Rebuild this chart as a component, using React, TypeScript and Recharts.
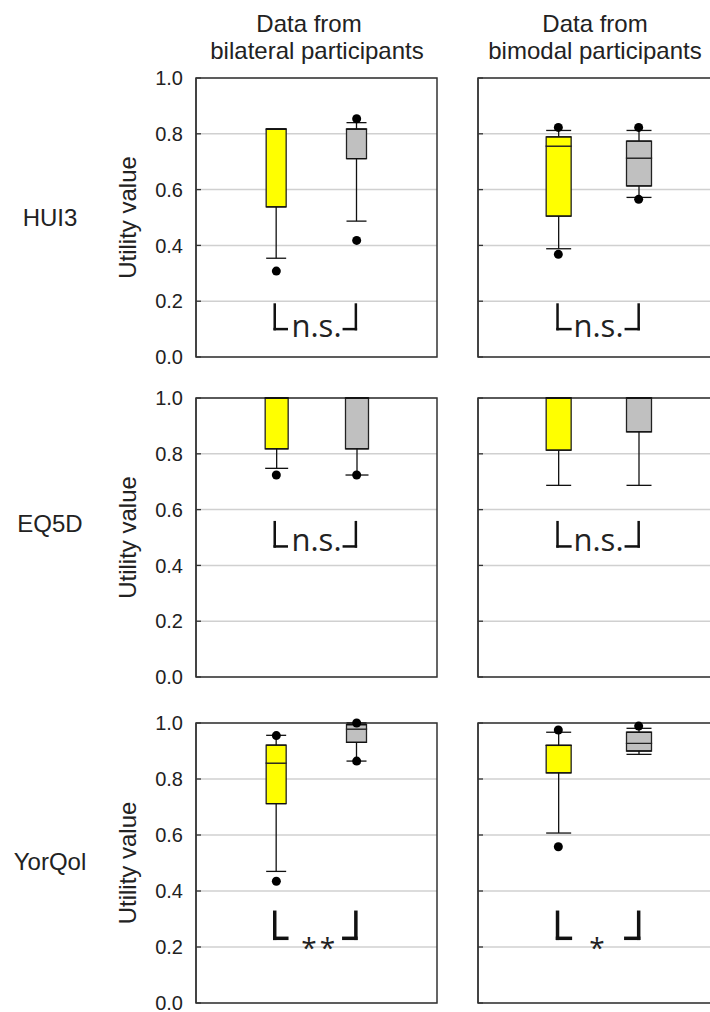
import React from 'react';
import {
  ComposedChart,
  Bar,
  Cell,
  ErrorBar,
  Scatter,
  XAxis,
  YAxis,
  CartesianGrid,
  ReferenceLine,
  ReferenceDot,
  ReferenceArea,
} from 'recharts';

type Box = {
  min: number;
  q1: number;
  median: number;
  q3: number;
  max: number;
  outLow: number | null;
  outHigh: number | null;
};

// ---------- data ----------
const categories = ['Group 1', 'Group 2'];
const categoryPositions = [1, 2];
const boxColors = ['#FFFF00', '#C0C0C0'];
const columnTitles = [
  ['Data from', 'bilateral participants'],
  ['Data from', 'bimodal participants'],
];
const measures = ['HUI3', 'EQ5D', 'YorQol'];
const yTicks = [0, 0.2, 0.4, 0.6, 0.8, 1.0];
const yAxisTitle = 'Utility value';

const hui3Bilateral: Box[] = [
  { min: 0.354, q1: 0.538, median: 0.817, q3: 0.817, max: 0.817, outLow: 0.308, outHigh: null },
  { min: 0.487, q1: 0.711, median: 0.817, q3: 0.817, max: 0.84, outLow: 0.418, outHigh: 0.854 },
];
const hui3Bimodal: Box[] = [
  { min: 0.388, q1: 0.505, median: 0.756, q3: 0.789, max: 0.812, outLow: 0.368, outHigh: 0.823 },
  { min: 0.572, q1: 0.613, median: 0.713, q3: 0.774, max: 0.812, outLow: 0.565, outHigh: 0.823 },
];
const eq5dBilateral: Box[] = [
  { min: 0.748, q1: 0.818, median: 1.0, q3: 1.0, max: 1.0, outLow: 0.724, outHigh: null },
  { min: 0.724, q1: 0.818, median: 1.0, q3: 1.0, max: 1.0, outLow: 0.724, outHigh: null },
];
const eq5dBimodal: Box[] = [
  { min: 0.687, q1: 0.813, median: 1.0, q3: 1.0, max: 1.0, outLow: null, outHigh: null },
  { min: 0.687, q1: 0.879, median: 1.0, q3: 1.0, max: 1.0, outLow: null, outHigh: null },
];
const yorqolBilateral: Box[] = [
  { min: 0.47, q1: 0.712, median: 0.857, q3: 0.921, max: 0.956, outLow: 0.435, outHigh: 0.955 },
  { min: 0.864, q1: 0.931, median: 0.978, q3: 0.994, max: 1.0, outLow: 0.864, outHigh: 1.0 },
];
const yorqolBimodal: Box[] = [
  { min: 0.607, q1: 0.822, median: 0.92, q3: 0.92, max: 0.967, outLow: 0.558, outHigh: 0.975 },
  { min: 0.888, q1: 0.9, median: 0.927, q3: 0.967, max: 0.981, outLow: null, outHigh: 0.989 },
];
const panelData: Box[][][] = [
  [hui3Bilateral, hui3Bimodal],
  [eq5dBilateral, eq5dBimodal],
  [yorqolBilateral, yorqolBimodal],
];
const significance = [
  ['n.s.', 'n.s.'],
  ['n.s.', 'n.s.'],
  ['**', '*'],
];

// ---------- layout ----------
const ARIAL = '"Liberation Sans", Arial, Helvetica, sans-serif';
const CALIBRI = '"Open Sans", "Noto Sans", sans-serif';
const ROWS = [
  { top: 60, plotH: 279, labelBaseline: 226, barSize: [20, 25], bracketTop: 0.188, bracketBottom: 0.1, textY: 0.072, bracketWidth: 2.5 },
  { top: 380, plotH: 279, labelBaseline: 532, barSize: [23, 25], bracketTop: 0.555, bracketBottom: 0.468, textY: 0.453, bracketWidth: 2.5 },
  { top: 705, plotH: 280, labelBaseline: 870, barSize: [20, 25], bracketTop: 0.324, bracketBottom: 0.231, textY: 0.16, bracketWidth: 3.5 },
];
const COLS = [
  { left: 100, width: 345, right: 8, axisWidth: 96, bL: 0.98, bR: 1.99, arm: 0.15 },
  { left: 470, width: 260, right: 11, axisWidth: 8, bL: 0.99, bR: 2.0, arm: 0.16 },
];
const MARGIN_TOP = 18;
const MARGIN_BOTTOM = 13;
// keeps a zero-height upper box segment present so that its whisker is still drawn
const MIN_SEGMENT = 1e-4;

const dotShape = (key: 'outLow' | 'outHigh') => (props: any) => {
  const v = props && props.payload ? props.payload[key] : null;
  if (v == null || props.cx == null || props.cy == null || isNaN(props.cy)) return <g />;
  return <circle cx={props.cx} cy={props.cy} r={4.5} fill="#000" />;
};

function Panel({ row, col }: { row: number; col: number }) {
  const r = ROWS[row];
  const c = COLS[col];
  const boxes = panelData[row][col];
  const sig = significance[row][col];
  const data = boxes.map((b, i) => {
    const upper = Math.max(b.q3 - b.median, MIN_SEGMENT);
    const top = b.median + upper;
    return {
      name: categories[i],
      pos: categoryPositions[i],
      base: b.q1,
      lower: b.median - b.q1,
      upper,
      lowErr: [b.q1 - b.min, 0],
      highErr: [0, Math.max(b.max - top, 0)],
      outLow: b.outLow,
      outHigh: b.outHigh,
    };
  });
  const bw = r.barSize[col];
  const sw = r.bracketWidth;
  const isStar = sig.indexOf('*') >= 0;
  const height = MARGIN_TOP + r.plotH + MARGIN_BOTTOM;
  const textShape = (p: any) => (
    <text
      x={p.cx}
      y={p.cy}
      textAnchor="middle"
      fontFamily={CALIBRI}
      fontSize={isStar ? 28 : 31}
      letterSpacing={isStar ? 3 : 0}
      fill="#222"
    >
      {sig}
    </text>
  );
  const seg = (x1: number, y1: number, x2: number, y2: number, k: string) => (
    <ReferenceLine
      key={k}
      segment={[
        { x: x1, y: y1 },
        { x: x2, y: y2 },
      ]}
      stroke="#111"
      strokeWidth={sw}
      strokeLinecap="square"
      ifOverflow="visible"
    />
  );
  return (
    <div style={{ position: 'absolute', left: c.left, top: r.top }}>
      <ComposedChart
        width={c.width}
        height={height}
        data={data}
        margin={{ top: MARGIN_TOP, right: c.right, bottom: MARGIN_BOTTOM, left: 0 }}
      >
        <CartesianGrid vertical={false} stroke="#d0d0d0" strokeWidth={1.5} />
        <XAxis dataKey="pos" type="number" domain={[0, 3]} allowDataOverflow hide />
        <YAxis
          type="number"
          domain={[0, 1]}
          ticks={yTicks}
          interval={0}
          width={c.axisWidth}
          tickSize={-5}
          tickMargin={18}
          axisLine={{ stroke: '#333', strokeWidth: 1.3 }}
          tickLine={{ stroke: '#333', strokeWidth: 1.3 }}
          tickFormatter={(v: number) => (col === 0 ? v.toFixed(1) : '')}
          tick={{ fontSize: 20, fill: '#222', fontFamily: ARIAL }}
          label={
            col === 0
              ? { value: yAxisTitle, angle: -90, position: 'center', dx: -21, fontSize: 24, fill: '#222', fontFamily: ARIAL }
              : undefined
          }
        />
        <ReferenceArea
          x1={0}
          x2={3}
          y1={0}
          y2={1}
          fill="none"
          fillOpacity={0}
          stroke="#333"
          strokeWidth={1.5}
          ifOverflow="visible"
        />
        <Bar dataKey="base" stackId="b" fill="none" barSize={bw} isAnimationActive={false}>
          <ErrorBar dataKey="lowErr" direction="y" width={bw / 2} stroke="#111" strokeWidth={1.3} isAnimationActive={false} />
        </Bar>
        <Bar dataKey="lower" stackId="b" barSize={bw} stroke="#222" strokeWidth={1.3} isAnimationActive={false}>
          {data.map((d, i) => (
            <Cell key={d.name} fill={boxColors[i]} />
          ))}
        </Bar>
        <Bar dataKey="upper" stackId="b" barSize={bw} stroke="#222" strokeWidth={1.3} isAnimationActive={false}>
          {data.map((d, i) => (
            <Cell key={d.name} fill={boxColors[i]} />
          ))}
          <ErrorBar dataKey="highErr" direction="y" width={bw / 2} stroke="#111" strokeWidth={1.3} isAnimationActive={false} />
        </Bar>
        <Scatter dataKey="outLow" shape={dotShape('outLow')} isAnimationActive={false} />
        <Scatter dataKey="outHigh" shape={dotShape('outHigh')} isAnimationActive={false} />
        {seg(c.bL, r.bracketTop, c.bL, r.bracketBottom, 'l1')}
        {seg(c.bL, r.bracketBottom, c.bL + c.arm, r.bracketBottom, 'l2')}
        {seg(c.bR, r.bracketTop, c.bR, r.bracketBottom, 'r1')}
        {seg(c.bR - c.arm, r.bracketBottom, c.bR, r.bracketBottom, 'r2')}
        <ReferenceDot
          x={isStar ? (col === 0 ? 1.54 : 1.5) : 1.5}
          y={r.textY}
          r={1}
          shape={textShape}
          ifOverflow="visible"
        />
      </ComposedChart>
    </div>
  );
}

export default function App() {
  return (
    <div
      style={{
        position: 'absolute',
        left: 0,
        top: 0,
        width: 710,
        height: 1012,
        overflow: 'hidden',
        background: '#fff',
        fontFamily: ARIAL,
        color: '#222',
      }}
    >
      {columnTitles.map((lines, ci) => (
        <div key={ci}>
          {lines.map((t, li) => (
            <div
              key={li}
              style={{
                position: 'absolute',
                left: ci === 0 ? (li === 0 ? 309 : 317) : 595,
                top: li === 0 ? 10 : 37,
                transform: 'translateX(-50%)',
                whiteSpace: 'nowrap',
                fontSize: 24,
                lineHeight: '27px',
              }}
            >
              {t}
            </div>
          ))}
        </div>
      ))}
      {measures.map((m, ri) => (
        <div
          key={m}
          style={{
            position: 'absolute',
            left: 50,
            top: ROWS[ri].labelBaseline - 22,
            transform: 'translateX(-50%)',
            whiteSpace: 'nowrap',
            fontSize: 24,
            lineHeight: '27px',
          }}
        >
          {m}
        </div>
      ))}
      {ROWS.map((_, ri) =>
        COLS.map((__, ci) => <Panel key={`${ri}-${ci}`} row={ri} col={ci} />)
      )}
    </div>
  );
}
